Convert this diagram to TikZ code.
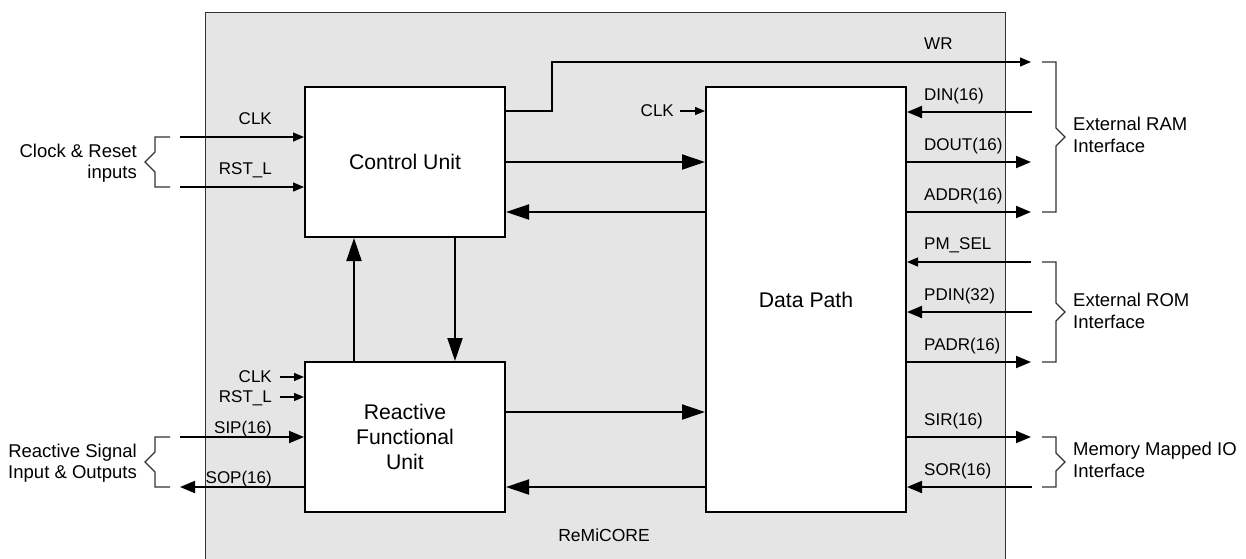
\documentclass[tikz,border=0pt]{standalone}
\usepackage{fontspec}
\setmainfont{Liberation Sans}
\usetikzlibrary{arrows.meta}
\definecolor{corefill}{HTML}{E5E5E5}
\definecolor{edge}{HTML}{333333}

\begin{document}
\begin{tikzpicture}[x=1pt,y=-1pt,
  lbl/.style={font=\fontsize{17}{20}\selectfont, inner sep=0pt},
  caption/.style={font=\fontsize{18.5}{21.5}\selectfont, inner sep=0pt},
  block/.style={draw, line width=2pt, fill=white, minimum width=200pt,
    font=\fontsize{21.2}{25}\selectfont, align=center},
  bus/.style={line width=2pt, -{Triangle[length=23pt,width=15pt]}},
  sig/.style={line width=2pt, -{Triangle[length=15pt,width=12pt]}},
  wire/.style={line width=1.3pt, -{Triangle[length=11pt,width=9pt]}},
  tick/.style={line width=1.3pt, -{Triangle[length=10pt,width=8pt]}},
  brace/.style={draw=edge, line width=1.3pt}
]
\useasboundingbox (0,0) rectangle (1246,558);
\clip (0,0) rectangle (1246,558);

% core outline (runs past the lower edge)
\draw[fill=corefill, draw=edge, line width=1pt] (205,12) rectangle (1005,620);
\node[font=\fontsize{17.5}{20}\selectfont, inner sep=0pt] (core) at (604,535) {ReMiCORE};

% functional blocks
\node[block, minimum height=150pt] (cu) at (405,162) {Control Unit};
\node[block, minimum height=425pt] (dp) at (806,299.5) {Data Path};
\node[block, minimum height=150pt] (rfu) at (405,437) {Reactive\\Functional\\Unit};

% internal buses
\draw[bus] (cu.east |- 0,162) -- (dp.west |- 0,162);
\draw[bus] (dp.west |- 0,212) -- (cu.east |- 0,212);
\draw[bus] (rfu.east |- 0,412) -- (dp.west |- 0,412);
\draw[bus] (dp.west |- 0,487) -- (rfu.east |- 0,487);
\draw[bus] (cu.south -| 455,0) -- (rfu.north -| 455,0);
\draw[bus] (rfu.north -| 354,0) -- (cu.south -| 354,0);

% write strobe
\coordinate (wr) at (1031,62);
\draw[wire] (cu.east |- 0,111) -- (552,111) -- (552,62) -- (wr);
\node[lbl, anchor=base west] (lwr) at (924,49) {WR};

% data path clock
\coordinate (dpclk) at (680,111);
\draw[tick] (dpclk) -- (dp.west |- 0,111);
\node[lbl, anchor=east] (ldpclk) at (674,111) {CLK};

% external RAM interface
\coordinate (din) at (1032,112);
\coordinate (dout) at (1031,162);
\coordinate (addr) at (1031,212);
\draw[sig] (din) -- (dp.east |- din);
\draw[sig] (dp.east |- dout) -- (dout);
\draw[sig] (dp.east |- addr) -- (addr);
\node[lbl, anchor=base west] (ldin) at (924,100) {DIN(16)};
\node[lbl, anchor=base west] (ldout) at (924,150) {DOUT(16)};
\node[lbl, anchor=base west] (laddr) at (924,200) {ADDR(16)};

% external ROM interface
\coordinate (pmsel) at (1031,262);
\coordinate (pdin) at (1032,312);
\coordinate (padr) at (1031,362);
\draw[wire] (pmsel) -- (dp.east |- pmsel);
\draw[sig] (pdin) -- (dp.east |- pdin);
\draw[sig] (dp.east |- padr) -- (padr);
\node[lbl, anchor=base west] (lpmsel) at (924,249) {PM\_SEL};
\node[lbl, anchor=base west] (lpdin) at (924,300) {PDIN(32)};
\node[lbl, anchor=base west] (lpadr) at (924,350) {PADR(16)};

% memory mapped IO
\coordinate (sir) at (1031,437);
\coordinate (sor) at (1032,487);
\draw[sig] (dp.east |- sir) -- (sir);
\draw[sig] (sor) -- (dp.east |- sor);
\node[lbl, anchor=base west] (lsir) at (924,425) {SIR(16)};
\node[lbl, anchor=base west] (lsor) at (924,475) {SOR(16)};

% clock and reset inputs to the control unit
\coordinate (clkin) at (180,137);
\coordinate (rstin) at (180,187);
\draw[wire] (clkin) -- (cu.west |- clkin);
\draw[wire] (rstin) -- (cu.west |- rstin);
\node[lbl, anchor=base east] (lclk) at (272,124) {CLK};
\node[lbl, anchor=base east] (lrst) at (272,174) {RST\_L};

% reactive unit ports
\coordinate (rclk) at (280,377);
\coordinate (rrst) at (280,397);
\coordinate (sip) at (180,437);
\coordinate (sop) at (180,487);
\draw[tick] (rclk) -- (rfu.west |- rclk);
\draw[tick] (rrst) -- (rfu.west |- rrst);
\draw[sig] (sip) -- (rfu.west |- sip);
\draw[sig] (rfu.west |- sop) -- (sop);
\node[lbl, anchor=east] (lrclk) at (272,377) {CLK};
\node[lbl, anchor=base east] (lrrst) at (272,402) {RST\_L};
\node[lbl, anchor=base east] (lsip) at (272,433) {SIP(16)};
\node[lbl, anchor=base east] (lsop) at (272,483) {SOP(16)};

% grouping braces
\draw[brace] (170,137) -- (155,137) -- (155,152) -- (145,162) -- (155,172) -- (155,187) -- (170,187);
\draw[brace] (170,437) -- (155,437) -- (155,452) -- (145,462) -- (155,472) -- (155,487) -- (170,487);
\draw[brace] (1042,62) -- (1056,62) -- (1056,128) -- (1065,137) -- (1056,146) -- (1056,212) -- (1042,212);
\draw[brace] (1042,262) -- (1056,262) -- (1056,303) -- (1065,312) -- (1056,321) -- (1056,362) -- (1042,362);
\draw[brace] (1042,437) -- (1056,437) -- (1056,453) -- (1065,462) -- (1056,471) -- (1056,487) -- (1042,487);

% group captions
\node[caption, align=right, anchor=east] (gclk) at (137,163) {Clock \& Reset\\inputs};
\node[caption, align=right, anchor=east] (gsig) at (137,463) {Reactive Signal\\Input \& Outputs};
\node[caption, align=left, anchor=west] (gram) at (1073,135) {External RAM\\Interface};
\node[caption, align=left, anchor=west] (grom) at (1073,311) {External ROM\\Interface};
\node[caption, align=left, anchor=west] (gio) at (1073,460) {Memory Mapped IO\\Interface};
\end{tikzpicture}
\end{document}
